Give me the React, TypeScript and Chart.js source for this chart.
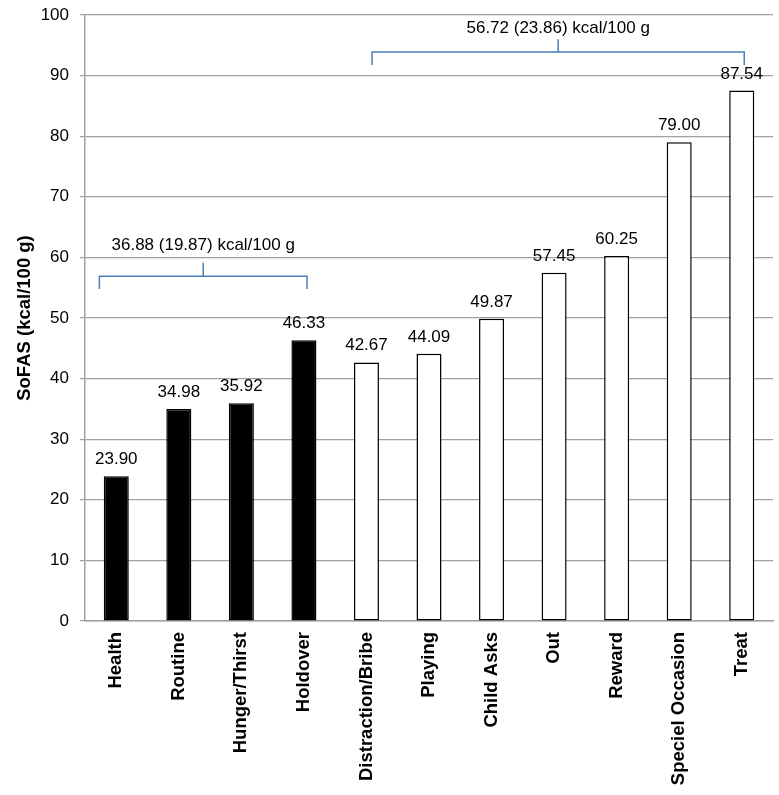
import React, { useEffect, useRef } from "react";
import { Chart, registerables } from "chart.js";

Chart.register(...registerables);

const categories = [
  "Health",
  "Routine",
  "Hunger/Thirst",
  "Holdover",
  "Distraction/Bribe",
  "Playing",
  "Child Asks",
  "Out",
  "Reward",
  "Speciel Occasion",
  "Treat",
];
const values = [23.9, 34.98, 35.92, 46.33, 42.67, 44.09, 49.87, 57.45, 60.25, 79.0, 87.54];
const filledGroup = [true, true, true, true, false, false, false, false, false, false, false];

const yTicksMin = 0;
const yTicksMax = 100;
const yTicksStep = 10;
const yTitle = "SoFAS (kcal/100 g)";

// group brackets (category index / value units)
const bracketLabels = ["36.88 (19.87) kcal/100 g", "56.72 (23.86) kcal/100 g"];
const bracketStart = [-0.27, 4.09];
const bracketEnd = [3.05, 10.04];
const bracketLevel = [56.9, 93.9];
const bracketLegBottom = [54.8, 91.75];
const bracketTickTop = [59.1, 96.0];
const bracketTextBase = [61.2, 97.0];

const FONT = "'Liberation Sans', Arial, sans-serif";

const labelPlugin = {
  id: "valueLabels",
  afterDatasetsDraw(chart: any) {
    const ctx = chart.ctx;
    const meta = chart.getDatasetMeta(0);
    ctx.save();
    ctx.font = `17px ${FONT}`;
    ctx.fillStyle = "#000";
    ctx.textAlign = "center";
    ctx.textBaseline = "alphabetic";
    meta.data.forEach((bar: any, i: number) => {
      ctx.fillText(values[i].toFixed(2), bar.x, bar.y - 12);
    });
    ctx.restore();
  },
};

const bracketPlugin = {
  id: "brackets",
  afterDatasetsDraw(chart: any) {
    const ctx = chart.ctx;
    const xs = chart.scales.x;
    const ys = chart.scales.y;
    ctx.save();
    bracketLabels.forEach((label, i) => {
      const x1 = xs.getPixelForValue(bracketStart[i]);
      const x2 = xs.getPixelForValue(bracketEnd[i]);
      const xm = (x1 + x2) / 2;
      const yl = ys.getPixelForValue(bracketLevel[i]);
      const yb = ys.getPixelForValue(bracketLegBottom[i]);
      const yt = ys.getPixelForValue(bracketTickTop[i]);
      ctx.strokeStyle = "#4a7ebb";
      ctx.lineWidth = 1.5;
      ctx.beginPath();
      ctx.moveTo(x1, yb);
      ctx.lineTo(x1, yl);
      ctx.lineTo(x2, yl);
      ctx.lineTo(x2, yb);
      ctx.moveTo(xm, yl);
      ctx.lineTo(xm, yt);
      ctx.stroke();
      ctx.font = `17px ${FONT}`;
      ctx.fillStyle = "#000";
      ctx.textAlign = "center";
      ctx.textBaseline = "alphabetic";
      ctx.fillText(label, xm, ys.getPixelForValue(bracketTextBase[i]));
    });
    ctx.restore();
  },
};

export default function App() {
  const ref = useRef<HTMLCanvasElement | null>(null);
  useEffect(() => {
    if (!ref.current) return;
    const chart = new Chart(ref.current, {
      type: "bar",
      data: {
        labels: categories,
        datasets: [
          {
            data: values,
            backgroundColor: filledGroup.map((f) => (f ? "#000" : "#fff")),
            borderColor: "#000",
            borderWidth: 1.5,
            borderSkipped: false,
            barPercentage: 0.4,
            categoryPercentage: 1.0,
          },
        ],
      },
      options: {
        responsive: false,
        animation: false,
        devicePixelRatio: 1,
        layout: { padding: { top: 15, right: 6, left: 0, bottom: 0 } },
        plugins: {
          legend: { display: false },
          tooltip: { enabled: false },
        },
        scales: {
          x: {
            grid: { display: false, drawTicks: false },
            border: { display: true, color: "#a0a0a0", width: 1.5 },
            ticks: {
              minRotation: 90,
              maxRotation: 90,
              autoSkip: false,
              padding: 11,
              color: "#000",
              font: { family: FONT, size: 18.5, weight: "bold" },
            },
            afterFit: (scale: any) => {
              scale.height = 174;
              scale.paddingLeft = 0;
              scale.paddingRight = 0;
            },
          },
          y: {
            min: yTicksMin,
            max: yTicksMax,
            grid: { color: "#a0a0a0", lineWidth: 1.2, tickLength: 5, drawTicks: true },
            border: { display: true, color: "#a0a0a0", width: 1.5 },
            ticks: {
              stepSize: yTicksStep,
              padding: 11,
              color: "#000",
              font: { family: FONT, size: 17 },
            },
            title: {
              display: true,
              text: yTitle,
              color: "#000",
              padding: { top: 14, bottom: 0 },
              font: { family: FONT, size: 18.5, weight: "bold" },
            },
            afterFit: (scale: any) => {
              scale.width = 85;
              scale.paddingTop = 0;
              scale.paddingBottom = 0;
            },
          },
        },
      },
      plugins: [labelPlugin, bracketPlugin],
    });
    return () => chart.destroy();
  }, []);
  return (
    <div style={{ position: "absolute", left: 0, top: 0, width: 779, height: 795, background: "#fff" }}>
      <canvas ref={ref} width={779} height={795} />
    </div>
  );
}
